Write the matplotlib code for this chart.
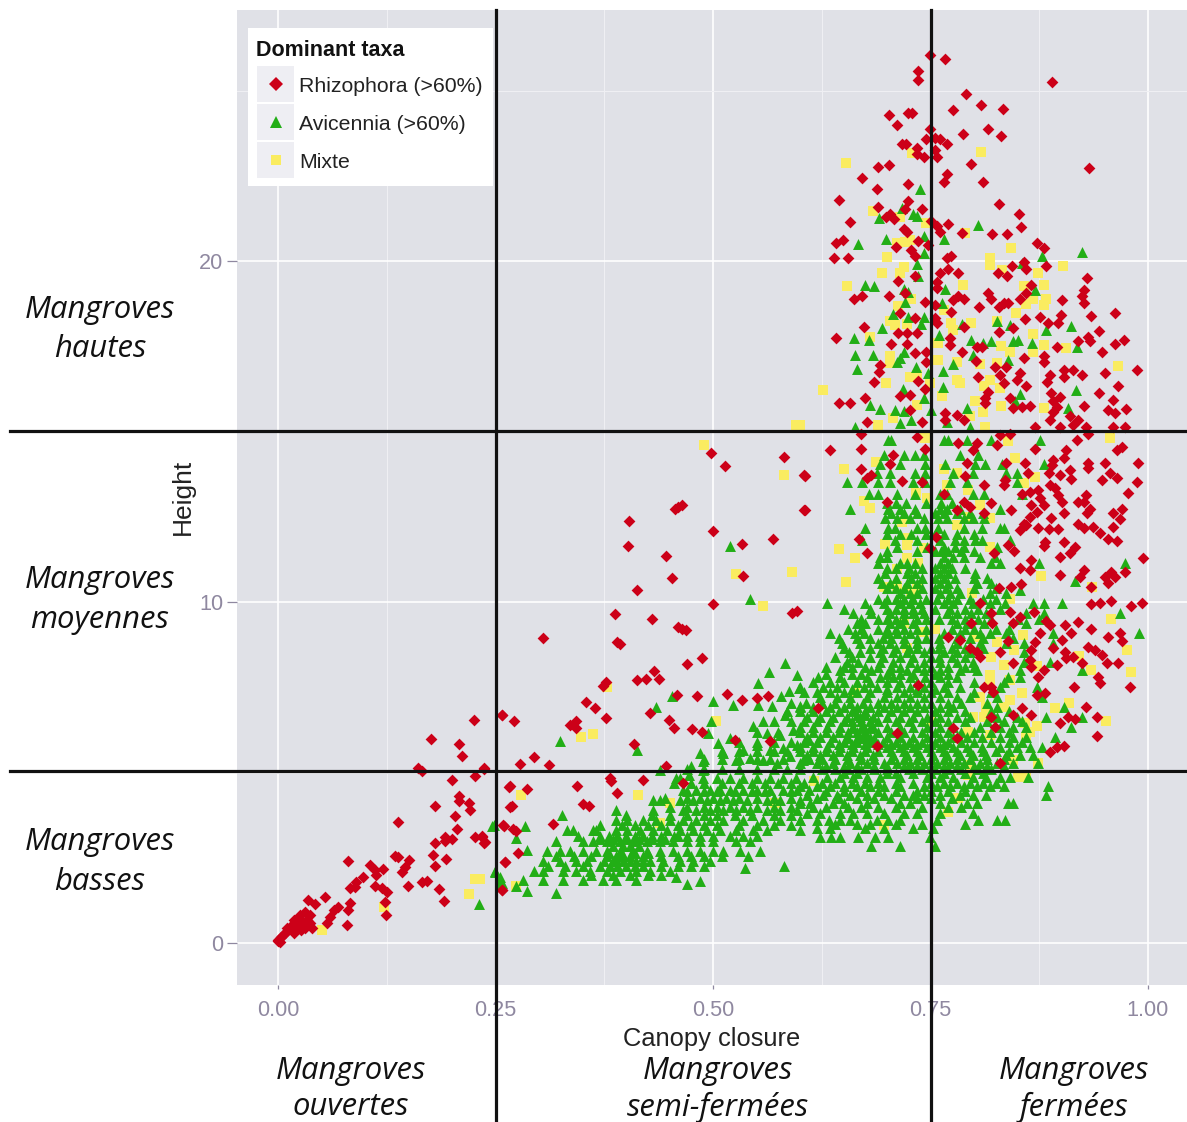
import numpy as np
import matplotlib
matplotlib.use('Agg')
import matplotlib.pyplot as plt
from matplotlib.lines import Line2D
from matplotlib.patches import Rectangle

W = 1187
H = 1122

#tick labels and texts
x_ticks = [0.0, 0.25, 0.5, 0.75, 1.0]
x_minor = [0.125, 0.375, 0.625, 0.875]
y_ticks = [0, 10, 20]
y_minor = [5, 15, 25]
x_breaks = [0.251, 0.751]
y_breaks = [5.05, 15]
taxa_names = ['Rhizophora (>60%)', 'Avicennia (>60%)', 'Mixte']

#points: (canopy closure, height)
rhizophora = [
(.749,26.04),(.767,25.91),(.890,25.24),(.736,25.58),(.736,25.32),(.791,24.91),(.808,24.57),(.833,24.47),(.776,24.43),
(.702,24.28),(.724,24.33),(.729,24.33),(.711,24.0),(.749,23.86),(.816,23.86),(.787,23.71),(.831,23.66),(.745,23.57),
(.755,23.6),(.761,23.57),(.769,23.43),(.717,23.43),(.722,23.43),(.734,23.3),(.755,23.25),(.734,23.13),(.742,23.04),
(.757,23.04),(.797,22.85),(.690,22.76),(.702,22.81),(.932,22.72),(.769,22.54),(.671,22.42),(.766,22.32),(.810,22.32),
(.724,22.25),(.688,22.1),(.645,21.8),(.724,21.76),(.829,21.67),(.690,21.57),(.721,21.52),(.740,21.52),(.852,21.38),
(.703,21.38),(.699,21.3),(.708,21.23),(.658,21.13),(.751,21.18),(.770,21.09),(.757,21.03),(.854,20.99),(.719,20.95),
(.761,20.86),(.723,20.86),(.821,20.8),(.838,20.8),(.786,20.81),(.736,20.59),(.649,20.62),(.641,20.52),(.872,20.54),
(.747,20.47),(.880,20.37),(.710,20.42),(.728,20.32),(.732,20.15),(.639,20.09),(.655,20.09),(.769,20.09),(.774,20.15),
(.860,19.78),(.857,19.98),(.844,19.84),(.883,19.84),(.770,19.76),(.761,19.66),(.782,19.66),(.828,19.66),(.838,19.56),
(.732,19.56),(.930,19.51),(.713,19.42),(.757,19.39),(.757,19.2),(.926,19.15),(.866,19.3),(.816,19.05),(.819,18.9),
(.860,19.05),(.853,18.9),(.924,18.98),(.901,18.86),(.671,18.98),(.662,18.9),(.702,18.98),(.721,19.05),(.782,18.98),
(.776,18.86),(.788,18.9),(.744,18.8),(.755,18.71),(.926,18.78),(.839,18.76),(.834,18.76),(.829,18.66),(.806,18.66),
(.774,18.51),(.715,18.47),(.962,18.47),(.900,18.42),(.934,18.39),(.732,18.32),(.755,18.32),(.876,18.37),(.859,18.29),
(.757,18.19),(.885,18.17),(.896,18.17),(.674,18.05),(.789,18.05),(.845,18.03),(.829,17.93),(.944,17.95),(.713,17.9),
(.723,17.9),(.734,17.9),(.641,17.75),(.931,17.78),(.933,17.64),(.920,17.64),(.972,17.67),(.962,17.57),(.772,17.73),
(.772,17.54),(.705,17.57),(.723,17.57),(.803,17.49),(.809,17.49),(.895,17.49),(.947,17.32),(.786,17.32),(.732,17.29),
(.745,17.32),(.857,17.17),(.881,17.2),(.881,17.05),(.745,17.05),(.802,17.07),(.692,16.95),(.987,16.8),(.950,16.71),
(.914,16.8),(.904,16.8),(.904,16.61),(.924,16.66),(.837,16.9),(.824,16.9),(.830,16.66),(.834,16.41),(.853,16.71),
(.849,16.51),(.691,16.75),(.685,16.46),(.805,16.61),(.887,16.66),(.884,16.46),(.736,16.49),(.966,16.32),(.860,16.32),
(.744,16.24),(.816,16.17),(.813,15.97),(.889,16.12),(.899,16.02),(.891,15.88),(.944,16.12),(.715,16.03),(.726,16.07),
(.675,15.99),(.645,15.85),(.657,15.85),(.841,15.99),(.926,15.75),(.845,15.7),(.855,15.73),(.864,15.75),(.960,15.93),
(.954,15.63),(.962,15.53),(.975,15.66),(.813,15.85),(.895,15.73),(.891,15.58),(.887,15.34),(.910,15.44),(.920,15.34),
(.914,15.19),(.899,15.14),(.677,15.27),(.740,15.27),(.726,15.63),(.767,15.53),(.767,15.34),(.780,15.48),(.788,15.34),
(.870,15.14),(.960,15.14),(.973,15.14),(.929,15.14),
(.634,14.45),(.670,14.5),(.670,14.94),(.606,13.7),(.606,12.7),(.734,14.84),(.744,14.5),(.707,14.31),(.703,14.06),
(.670,13.89),(.677,13.64),(.682,13.72),(.740,13.51),(.717,13.56),(.782,14.65),(.803,14.65),(.799,14.45),(.826,14.6),
(.830,14.89),(.841,14.94),(.870,14.5),(.906,14.45),(.904,14.21),(.918,14.75),(.931,14.94),(.964,14.45),(.970,14.55),
(.989,14.08),(.950,14.08),(.931,14.08),(.931,13.92),(.891,14.16),(.890,14.01),(.859,14.08),(.837,14.08),(.792,14.08),
(.886,13.79),(.899,13.72),(.910,13.87),(.912,13.62),(.956,13.77),(.947,13.59),(.964,13.64),(.987,13.51),(.977,13.21),
(.836,13.57),(.834,13.43),(.862,13.77),(.790,13.7),(.812,13.43),(.887,13.43),(.893,13.33),(.897,13.13),(.901,12.94),
(.864,13.23),(.874,13.28),(.855,13.18),(.876,13.04),(.881,12.84),(.866,12.84),(.929,13.13),(.920,12.94),(.927,12.94),
(.933,12.74),(.930,12.62),(.970,12.74),(.960,12.6),(.968,12.42),(.960,12.21),(.765,13.16),(.788,12.94),(.795,12.79),
(.780,12.7),(.820,12.89),(.842,12.7),(.811,12.6),(.700,12.94),(.872,12.65),(.864,12.48),(.857,12.3),(.853,12.11),
(.860,12.26),(.904,12.6),(.888,12.45),(.873,12.18),(.886,12.13),(.896,12.13),(.919,12.3),(.927,12.18),(.937,12.21),
(.945,12.03),(.954,11.84),(.964,11.79),(.882,11.77),(.881,11.64),(.904,11.77),(.916,11.62),(.910,11.44),(.899,11.31),
(.846,11.5),(.839,11.67),(.823,11.43),(.994,11.28),(.668,11.84),(.677,11.44),(.756,11.91),(.749,11.57),(.865,11.23),
(.853,10.99),(.864,10.94),(.899,10.79),(.926,10.94),(.922,10.74),(.958,10.89),(.950,10.74),(.962,10.74),(.954,10.55),
(.973,10.89),(.934,10.45),(.829,10.42),(.842,10.43),(.854,10.52),(.934,9.94),(.945,9.96),(.958,10.03),(.981,9.89),
(.993,9.98),(.807,9.98),(.841,9.72),(.820,9.67),(.853,9.57),(.869,9.7),(.883,9.45),(.887,9.32),(.821,9.39),(.845,9.37),
(.797,9.37),(.905,9.34),(.920,9.4),(.911,9.08),(.934,9.21),(.954,8.98),(.968,9.08),(.970,8.87),(.876,9.08),(.870,8.84),
(.901,8.88),(.784,8.88),(.770,8.96),(.839,8.87),(.931,8.69),(.939,8.59),(.947,8.45),(.905,8.54),(.914,8.4),(.795,8.64),
(.803,8.54),(.807,8.4),(.830,8.54),(.866,8.59),(.891,8.64),(.864,8.3),(.906,8.35),(.924,8.22),(.953,8.22),(.966,8.22),
(.845,8.22),(.895,8.15),(.881,8.01),(.874,7.81),(.866,8.1),(.943,7.81),(.945,7.63),(.979,7.5),(.915,7.5),(.811,7.52),
(.820,7.52),(.822,7.37),(.872,7.27),(.882,7.32),(.929,6.93),(.941,6.64),(.908,6.64),(.916,6.56),(.899,6.44),(.855,6.88),
(.845,6.69),(.866,6.69),(.941,6.07),(.711,6.15),(.689,5.79),(.776,6.3),(.781,6.0),(.903,5.79),(.895,5.76),(.887,5.61),
(.820,6.64),(.824,6.34),(.621,6.88),(.736,7.57),(.830,5.27),
(.498,14.36),(.514,13.99),(.582,14.24),(.605,13.71),(.464,12.85),(.46,12.8),(.456,12.74),(.404,12.38),(.605,12.7),
(.5,12.09),(.402,11.65),(.533,11.7),(.569,11.85),(.446,11.36),(.534,10.75),(.453,10.7),(.413,10.36),(.5,9.94),(.387,9.65),
(.43,9.51),(.596,9.75),(.591,9.69),(.46,9.26),(.464,9.21),(.469,9.17),(.305,8.94),(.39,8.84),(.393,8.77),(.487,8.36),
(.47,8.18),(.432,7.99),(.413,7.7),(.423,7.75),(.438,7.75),(.377,7.65),(.373,7.55),(.459,7.26),(.482,7.23),(.516,7.31),
(.533,7.12),(.55,7.18),(.563,7.23),(.354,7.07),(.364,6.88),(.377,6.6),(.257,6.7),(.271,6.5),(.428,6.74),(.449,6.55),
(.455,6.3),(.476,6.27),(.487,6.18),(.343,6.5),(.336,6.38),(.343,6.3),(.409,5.84),(.525,5.96),(.565,5.91),(.294,5.45),
(.278,5.26),(.312,5.23),(.237,5.11),(.446,5.18),(.382,4.84),(.383,4.74),(.419,4.79),(.344,4.59),(.267,4.59),(.286,4.51),
(.39,4.4),(.465,4.69),(.269,4.03),(.35,4.09),(.357,4.01),(.316,3.5),(.259,3.45),(.27,3.35),(.274,3.27),(.235,3.13),
(.238,2.96),(.276,2.64),(.261,2.39),(.257,1.56),
(.225,6.54),(.258,6.69),(.176,5.97),(.208,5.83),(.212,5.49),(.161,5.12),(.166,5.05),(.237,5.12),(.227,4.91),(.2,4.78),
(.265,4.58),(.208,4.32),(.208,4.15),(.181,4.02),(.219,4.1),(.221,3.9),(.267,4.0),(.204,3.73),(.138,3.55),(.26,3.44),
(.206,3.34),(.192,3.12),(.2,3.05),(.192,3.0),(.181,2.92),(.226,3.12),(.235,3.12),(.237,2.94),(.178,2.58),(.193,2.46),
(.261,2.39),(.181,2.26),(.134,2.55),(.138,2.53),(.15,2.42),(.146,2.24),(.142,2.09),(.081,2.41),(.106,2.29),(.111,2.14),
(.121,2.16),(.113,1.99),(.098,1.93),(.09,1.8),(.088,1.65),(.083,1.6),(.111,1.68),(.119,1.6),(.125,1.49),(.149,1.68),
(.165,1.78),(.171,1.83),(.185,1.59),(.191,1.24),(.258,1.56),(.123,1.2),(.124,.82),(.034,1.26),(.043,1.15),(.054,1.36),
(.083,1.17),(.08,.97),(.069,1.07),(.064,.97),(.06,.75),(.056,.58),(.079,.53),(.031,.92),(.037,.82),(.027,.68),(.037,.58),
(.031,.43),(.019,.63),(.014,.48),(.018,.29),(.01,.43),(.006,.24),(.0,.09),(.025,.82),(.002,.04),(.0,.05),(.021,.43),
(.027,.38),(.039,.43),(.033,.68),(.018,.68),(.012,.38),(.008,.3),(.004,.18),(.024,.55),(.03,.6),
]

mixte = [
(.653,22.86),(.808,23.21),(.729,23.17),(.684,21.47),(.715,21.28),(.745,21.12),(.790,20.81),(.711,20.54),(.721,20.57),
(.726,20.63),(.842,20.39),(.700,20.13),(.818,20.08),(.818,19.88),(.719,19.83),(.715,19.64),(.694,19.66),(.902,19.84),
(.873,19.66),(.832,19.73),(.654,19.28),(.787,19.3),(.857,19.28),(.881,19.3),(.883,18.9),(.868,18.88),(.860,18.74),
(.880,18.71),(.728,18.88),(.713,18.68),(.765,18.56),(.848,18.47),(.703,18.25),(.709,18.12),(.723,18.15),(.773,18.17),
(.797,18.17),(.776,17.98),(.827,18.25),(.681,17.76),(.868,17.86),(.759,17.59),(.831,17.52),(.881,17.54),(.841,17.34),
(.868,17.34),(.906,17.46),(.703,17.2),(.703,17.0),(.759,17.1),(.780,17.05),(.807,16.97),(.826,17.0),(.966,16.92),
(.726,16.61),(.734,16.66),(.749,16.41),(.780,16.51),(.784,16.41),(.818,16.51),(.811,16.32),(.699,16.41),(.627,16.22),
(.830,16.27),(.763,16.05),(.801,15.9),(.734,15.78),(.831,15.75),(.881,15.7),(.810,15.56),(.795,15.44),(.707,15.39),
(.690,15.2),(.813,15.13),(.600,15.2),
(.956,14.8),(.839,14.72),(.847,14.23),(.744,14.8),(.687,14.11),(.651,13.89),(.765,13.89),(.781,13.79),(.870,13.67),
(.857,13.48),(.793,13.28),(.769,13.43),(.733,13.21),(.746,13.04),(.673,12.96),(.681,12.77),(.807,12.84),(.793,12.5),
(.818,12.45),(.717,12.35),(.780,12.26),(.724,11.87),(.723,11.67),(.698,11.69),(.645,11.54),(.663,11.28),(.742,11.57),
(.818,11.62),(.723,11.28),(.736,11.13),(.877,10.77),(.711,10.96),(.653,10.6),(.711,10.47),(.696,10.43),(.734,10.4),
(.728,10.27),(.936,10.43),(.798,10.25),(.841,10.1),(.958,9.5),(.719,9.39),(.743,9.13),(.755,9.21),(.856,9.03),(.826,8.82),
(.846,8.59),(.801,8.98),(.976,8.59),(.921,8.42),(.723,8.64),(.820,8.4),(.834,8.15),(.872,8.12),(.935,8.01),(.981,7.96),
(.818,7.86),(.818,7.71),(.841,7.71),(.855,7.32),(.807,7.22),(.841,7.13),(.909,7.03),(.893,6.9),(.834,6.93),(.814,6.93),
(.799,6.62),(.811,6.64),(.952,6.52),(.859,6.46),(.750,6.51),(.793,6.2),(.818,6.1),(.864,6.2),(.860,6.05),(.872,6.35),
(.845,5.37),(.874,5.27),(.795,5.22),(.851,4.88),(.860,4.88),(.793,4.93),(.616,4.75),(.782,4.24),(.770,3.83),(.696,3.46),
(.663,7.32),
(.49,14.61),(.582,13.71),(.526,10.82),(.591,10.87),(.557,9.89),(.378,7.5),(.348,6.03),(.362,6.13),(.504,6.5),(.279,4.35),
(.414,4.33),(.45,4.12),(.571,4.12),(.439,3.52),(.595,15.19),(.274,1.66),(.232,1.88),(.051,.38),(.122,1.07),(.227,1.88),
(.219,1.44),
]

avicennia_sparse = [
(.738,22.11),(.717,21.54),(.691,21.25),(.730,21.38),(.735,21.32),(.805,21.07),(.742,20.74),(.699,20.64),(.765,20.64),
(.667,20.49),(.742,20.24),(.924,20.27),(.878,20.15),(.855,19.95),(.735,19.9),(.736,19.56),(.675,19.3),(.685,19.27),
(.719,19.17),(.724,19.1),(.767,19.17),(.870,19.15),(.721,18.81),(.763,18.78),(.707,18.45),(.742,18.35),(.724,18.37),
(.841,18.12),(.827,18.25),(.912,18.1),(.786,18.15),(.694,18.03),(.739,18.15),(.883,17.98),(.760,17.83),(.662,17.73),
(.679,17.68),(.797,17.68),(.810,17.6),(.820,17.66),(.845,17.64),(.851,17.68),(.867,17.59),(.918,17.49),(.719,17.34),
(.663,17.24),(.684,17.24),(.715,17.15),(.711,17.05),(.776,16.97),(.839,17.1),(.799,17.24),(.666,16.83),(.733,16.9),
(.747,16.71),(.764,16.76),(.764,16.3),(.718,16.24),(.917,16.22),(.853,16.1),(.742,15.97),(.847,15.9),(.681,15.78),
(.792,15.68),(.908,15.68),(.692,15.66),(.709,15.63),(.719,15.6),(.750,15.63),(.728,15.34),(.715,15.24),(.663,15.14),
(.769,15.29),(.795,15.14),
(.973,11.13),(.916,10.62),(.853,10.35),
(.520,11.65),(.542,10.09),(.324,5.91),(.435,6.92),(.453,7.23),(.500,7.11),(.523,6.99),(.552,7.62),(.564,7.96),(.583,8.21),
(.596,7.87),(.498,6.5),(.494,6.16),(.413,5.67),(.552,6.99),(.568,6.94),(.578,7.23),(.587,7.38),(.599,7.47),(.558,6.5),
(.583,6.7),(.600,6.94),(.546,6.35),(.562,6.16),(.577,6.11),(.592,6.25),(.506,5.86),(.519,6.01),(.535,5.67),(.550,5.81),
(.565,5.67),(.581,5.72),(.596,5.81),(.610,5.96),(.485,5.57),(.489,5.33),(.512,5.57),(.527,5.37),(.542,5.42),(.558,5.37),
(.573,5.28),(.588,5.47),(.604,5.37),(.439,5.08),(.458,4.84),(.472,4.93),(.475,5.18),(.489,5.08),
(.326,3.76),(.537,2.2),(.582,2.25),(.458,1.94),(.470,1.73),(.485,1.81),(.249,2.1),(.255,1.81),(.274,1.66),(.286,1.52),
(.32,1.47),(.248,3.47),(.284,3.42),(.274,3.08),(.286,2.72),(.246,3.43),(.249,2.07),(.255,1.95),(.257,1.75),(.231,1.14),
]

#dense part of the Avicennia cloud, noted band by band: (height, closures)
avicennia_bands = [
(14.75,[.701,.705,.765,.77,.792,.82,.876]),
(14.3,[.696,.719,.732,.742,.784,.805]),
(14.06,[.692,.715,.744,.767,.801,.813,.832,.88]),
(13.77,[.688,.703,.732,.744,.776,.799,.837,.849]),
(13.53,[.654,.671,.69,.703,.73,.744,.772,.792,.849]),
(13.18,[.679,.69,.711,.732,.761,.769,.799,.811,.855]),
(12.74,[.657,.701,.715,.732,.761,.769,.784,.83]),
(12.45,[.698,.711,.726,.742,.759,.769,.788,.799,.811]),
(12.16,[.675,.701,.709,.734,.744,.759,.788,.809,.83,.834]),
(11.82,[.671,.709,.734,.761,.778,.788,.801,.809,.841]),
(11.62,[.711,.746,.765,.778,.788,.826]),
(11.33,[.692,.7,.765,.776,.788,.807,.824]),
(11.13,[.69,.715,.723,.732,.761,.77,.82,.83,.875]),
(10.84,[.698,.723,.732,.761,.77,.801]),
(10.55,[.694,.703,.723,.734,.761,.77,.803,.82]),
(10.25,[.715,.726,.734,.761,.772,.784,.818,.837]),
(9.96,[.631,.675,.696,.715,.726,.738,.765,.776,.799,.818,.836,.868,.88,.901]),
(9.69,[.661,.682,.703,.719,.73,.742,.769,.78,.797,.814,.86,.881,.968]),
(9.37,[.665,.675,.703,.715,.73,.78,.792,.811,.86]),
(9.08,[.634,.663,.673,.7,.711,.726,.765,.784,.807,.818,.837,.891,.99]),
(8.79,[.648,.669,.69,.703,.719,.734,.761,.78,.807,.837,.857,.891]),
(8.54,[.656,.669,.692,.707,.723,.742,.765,.78,.795,.857]),
(8.25,[.654,.667,.692,.707,.726,.742,.761,.78,.799,.857,.887]),
(8.0,[.646,.682,.703,.723,.742,.761,.784,.803,.853,.924]),
(7.81,[.621,.646,.677,.692,.707,.726,.744,.761,.78,.839,.853]),
(7.52,[.6,.627,.642,.673,.688,.711,.726,.742,.765,.784,.83,.872]),
(7.22,[.623,.642,.657,.677,.696,.711,.726,.742,.761,.78,.795,.826,.878]),
(6.93,[.6,.615,.634,.65,.665,.68,.696,.711,.726,.742,.761,.776,.826,.903]),
(6.64,[.608,.623,.638,.654,.669,.684,.7,.715,.73,.746,.761,.78,.795,.826,.849,.883,.924]),
(6.34,[.6,.615,.631,.646,.661,.673,.684,.7,.715,.73,.746,.761,.776,.807,.83,.845,.86,.911]),
(6.05,[.608,.623,.638,.654,.669,.68,.7,.715,.73,.746,.761,.776,.792,.809,.83,.845,.86,.893]),
(5.76,[.6,.615,.631,.646,.661,.677,.7,.715,.73,.746,.761,.776,.792,.809,.83,.849,.864,.878]),
(5.51,[.608,.623,.638,.654,.669,.684,.707,.723,.738,.753,.769,.784,.799,.814,.837,.853,.868]),
(5.27,[.6,.619,.638,.657,.677,.696,.711,.726,.742,.757,.772,.788,.807,.826,.845,.874]),
(4.88,[.615,.631,.646,.661,.677,.692,.715,.746,.761,.776,.799,.814,.83,.841,.862]),
(4.59,[.6,.619,.634,.65,.665,.68,.696,.715,.742,.757,.772,.788,.803,.818,.834,.885]),
(4.34,[.608,.627,.642,.657,.677,.696,.719,.73,.742,.761,.784,.799,.814,.883]),
(4.1,[.6,.611,.638,.65,.677,.715,.726,.761,.792,.803,.845,.839]),
(3.8,[.608,.623,.646,.661,.677,.696,.719,.734,.761,.799]),
(3.61,[.6,.619,.633,.646,.657,.688,.701,.715,.757,.805,.826,.836]),
(3.37,[.619,.634,.675,.696,.73,.753]),
(3.12,[.623,.636,.646,.667,.686,.701,.749]),
(2.83,[.682,.715,.755]),
#left arm of the cloud
(4.84,[.462,.489,.505,.52,.535,.55,.565,.58,.595]),
(4.5,[.466,.481,.497,.508,.52,.535,.55,.565,.581,.596,.61]),
(4.2,[.431,.439,.462,.477,.493,.508,.523,.539,.562,.577,.6]),
(3.9,[.389,.431,.466,.481,.497,.512,.527,.542,.562,.577,.596]),
(3.6,[.389,.401,.42,.435,.45,.466,.481,.497,.512,.535,.558,.577,.6]),
(3.3,[.332,.339,.362,.366,.389,.401,.416,.431,.447,.462,.477,.493,.508,.527,.546,.562,.6]),
(3.0,[.32,.351,.362,.378,.393,.408,.424,.439,.454,.47,.485,.5,.527,.542]),
(2.7,[.309,.324,.336,.351,.366,.378,.393,.408,.424,.439,.454,.47,.485,.5,.512,.531,.554]),
(2.4,[.305,.324,.343,.355,.385,.397,.412,.428,.443,.462,.477,.497]),
(2.1,[.294,.305,.328,.343,.359,.378,.393,.412,.428,.45]),
(1.85,[.282,.305,.328,.351,.374,.389,.412]),
(2.85,[.385,.397,.405,.415]),
(2.55,[.378,.389,.397,.405,.42]),
(2.25,[.37,.382,.39,.4,.41,.42]),
(3.15,[.39,.4,.41,.43,.46]),
#second pass over the thick parts
(12.9,[.70,.71,.722,.745,.762,.775]),
(12.6,[.705,.72,.735,.755,.765,.78,.795,.81]),
(12.0,[.70,.715,.728,.745,.755,.765,.78,.80]),
(11.5,[.70,.735,.755,.762,.77,.785,.80]),
(11.0,[.70,.71,.725,.74,.755,.765,.775,.79]),
(10.7,[.69,.71,.728,.74,.755,.765,.778,.80,.815]),
(10.4,[.70,.71,.72,.74,.755,.768,.78,.80,.825]),
(10.1,[.69,.70,.71,.72,.73,.745,.757,.77,.78,.795,.81,.825]),
(9.8,[.65,.68,.70,.71,.72,.73,.74,.755,.772,.79,.805,.83]),
(9.5,[.67,.69,.70,.71,.72,.735,.745,.76,.775,.79,.805,.82,.85,.875]),
(9.2,[.655,.67,.69,.70,.71,.72,.735,.745,.775,.79,.80,.825,.84]),
(8.95,[.645,.665,.68,.695,.705,.72,.735,.745,.76,.78,.795,.81,.845]),
(8.65,[.65,.68,.695,.71,.725,.735,.75,.76,.775,.79,.81]),
(8.4,[.64,.66,.68,.695,.715,.73,.75,.76,.775,.79]),
(8.1,[.63,.65,.66,.675,.69,.705,.715,.735,.75,.77,.79,.80]),
(7.65,[.615,.635,.65,.665,.68,.70,.715,.735,.75,.77,.80,.835]),
(7.35,[.605,.62,.635,.65,.665,.68,.70,.72,.735,.75,.77,.80,.82]),
(7.05,[.59,.607,.625,.64,.657,.672,.69,.705,.72,.735,.75,.77,.785,.815]),
(6.8,[.585,.60,.615,.63,.645,.66,.675,.69,.705,.72,.735,.755,.77,.79,.82,.84]),
(6.5,[.57,.59,.605,.62,.635,.65,.66,.67,.68,.69,.71,.725,.74,.755,.77,.79,.815,.835,.855]),
(6.2,[.55,.575,.60,.615,.63,.645,.655,.665,.675,.69,.705,.72,.74,.755,.77,.785,.80,.82,.84]),
(5.9,[.53,.55,.57,.59,.605,.62,.635,.65,.665,.68,.695,.71,.725,.74,.755,.77,.785,.80,.82,.84,.855]),
(5.63,[.51,.53,.55,.57,.585,.60,.615,.63,.645,.66,.675,.69,.705,.72,.735,.75,.765,.78,.795,.81,.825,.84]),
(5.4,[.49,.51,.53,.55,.565,.58,.61,.625,.64,.655,.67,.685,.705,.72,.735,.75,.765,.78,.795,.815,.835]),
(5.1,[.47,.49,.51,.53,.55,.57,.585,.60,.625,.64,.655,.67,.685,.70,.725,.74,.755,.77,.785,.805,.82]),
(4.7,[.455,.475,.49,.51,.53,.545,.56,.575,.59,.605,.625,.64,.66,.675,.69,.71,.73,.75,.765,.78,.795,.81,.825]),
(4.0,[.45,.47,.49,.505,.52,.535,.55,.57,.59,.615,.63,.655,.67,.69,.71,.74,.77,.785]),
(3.75,[.40,.43,.45,.47,.49,.505,.525,.545,.57,.59]),
(3.45,[.37,.395,.41,.425,.44,.46,.475,.49,.505,.53,.55,.57,.59]),
(3.15,[.345,.37,.38,.42,.44,.455,.47,.485,.50,.52,.535,.55]),
(2.55,[.32,.34,.36,.44,.46,.475,.49,.51,.54]),
(2.25,[.31,.33,.35,.44,.46,.475,.49]),
(2.0,[.36,.385,.405,.425,.44]),
#third pass, darkest spots only
(6.0,[.655,.665,.675,.685]),
(6.3,[.66,.67,.68]),
(6.7,[.665,.675]),
(7.9,[.63,.66,.67,.70,.715,.73,.755,.77]),
(7.45,[.66,.70,.735,.755]),
(4.45,[.47,.49,.505,.525,.545,.56,.59,.63,.65,.67,.69,.71,.735,.75,.77,.79]),
(5.0,[.65,.665,.70,.71,.73,.75,.765,.79,.81]),
(4.25,[.445,.47,.485,.50,.515,.53,.55,.57,.59,.62,.645,.665,.685,.705,.735,.75,.775]),
(3.5,[.64,.665,.68,.71,.74,.79]),
(5.2,[.63,.65,.665,.685,.70,.72,.735,.75,.765,.78,.80,.815,.835]),
(5.85,[.645,.66,.675,.69,.705,.72,.735,.75,.765]),
(3.05,[.37,.385,.40,.415,.43,.445]),
(2.65,[.38,.395,.41,.425]),
(2.4,[.375,.39,.405,.42]),
]

a_x = [p[0] for p in avicennia_sparse]
a_y = [p[1] for p in avicennia_sparse]
for band in avicennia_bands:
    for val in band[1]:
        a_x.append(val)
        a_y.append(band[0])
r_x, r_y = np.array(rhizophora).T
m_x, m_y = np.array(mixte).T

red = '#CC0018'
green = '#22AE16'
yellow = '#FAEC60'
panel = '#E0E1E7'
label_col = '#8F88A0'

plt.rcParams['font.family'] = ['Liberation Sans', 'DejaVu Sans']
fig = plt.figure(figsize=(W/100, H/100), dpi=100, facecolor='white')
ax = fig.add_axes([237/W, 1-985/H, 950/W, 975/H], facecolor=panel)
ax.set_xlim(-41/870, 909/870)
ax.set_ylim(-42/34.1, 933/34.1)

for s in ax.spines.values():
    s.set_visible(False)
ax.set_xticks(x_ticks)
ax.set_xticklabels(['%.2f' % v for v in x_ticks])
ax.set_yticks(y_ticks)
ax.set_xticks(x_minor, minor=True)
ax.set_yticks(y_minor, minor=True)
ax.grid(True, which='major', color='white', lw=1.2)
ax.grid(True, which='minor', color='#EFEFF3', lw=0.8)
ax.set_axisbelow(True)
ax.tick_params(which='major', colors=label_col, labelsize=15.6, length=7, width=0.9, pad=3)
ax.tick_params(axis='x', which='major', length=3, pad=8)
ax.tick_params(which='minor', length=0)

ax.scatter(m_x, m_y, marker='s', s=46, color=yellow, linewidths=0, zorder=3)
ax.scatter(a_x, a_y, marker='^', s=62, color=green, linewidths=0, zorder=4)
ax.scatter(r_x, r_y, marker='D', s=36, color=red, linewidths=0, zorder=5)

ax.set_xlabel('Canopy closure', fontsize=18.4, color='#222222')
ax.xaxis.set_label_coords((712-237)/950, 1-(1039-10)/975)
ax.xaxis.label.set_verticalalignment('center')
ax.set_ylabel('Height', fontsize=19, color='#222222')
ax.yaxis.set_label_coords((183-237)/950, 1-(497-10)/975)
ax.yaxis.label.set_verticalalignment('center')

#class limits run past the panel
tr = ax.transData
for v in x_breaks:
    px = tr.transform((v, 0))[0]
    fig.add_artist(Line2D([px/W, px/W], [0, 1-10/H], color='#111111', lw=2.3, zorder=10))
for v in y_breaks:
    py = tr.transform((0, v))[1]
    fig.add_artist(Line2D([10/W, 1], [py/H, py/H], color='#111111', lw=2.3, zorder=10))

#legend
def fx(p):
    return p/W
def fy(p):
    return 1-p/H
fig.add_artist(Rectangle((fx(248), fy(186)), 245/W, 158/H, color='white', lw=0, zorder=11))
fig.text(fx(256), fy(51), 'Dominant taxa', fontsize=15.5, fontweight='bold', va='center', ha='left', color='#111111', zorder=12)
key_y = [84, 122, 160]
key_marker = ['D', '^', 's']
key_size = [7.0, 8.5, 7.5]
key_col = [red, green, yellow]
for i in range(3):
    fig.add_artist(Rectangle((fx(257), fy(key_y[i]+18)), 37/W, 36/H, color='#EEEEF3', lw=0, zorder=12))
    fig.add_artist(Line2D([fx(276)], [fy(key_y[i])], marker=key_marker[i], ms=key_size[i], color=key_col[i], mew=0, ls='', zorder=13))
    fig.text(fx(299), fy(key_y[i]+3), taxa_names[i], fontsize=15.3, va='center', ha='left', color='#222222', zorder=13)

#class names
class_labels = [
    ('Mangroves', 100, 310), ('hautes', 100, 349),
    ('Mangroves', 100, 580), ('moyennes', 100, 620),
    ('Mangroves', 100, 842), ('basses', 100, 882),
    ('Mangroves', 351, 1071), ('ouvertes', 351, 1107),
    ('Mangroves', 718, 1071), ('semi-fermées', 718, 1107),
    ('Mangroves', 1074, 1071), ('fermées', 1074, 1107),
]
for t in class_labels:
    fig.text(fx(t[1]), fy(t[2]), t[0], fontsize=22.3, style='italic', family='Open Sans', ha='center', va='center', color='#111111')

fig.savefig('out.png', dpi=100)
